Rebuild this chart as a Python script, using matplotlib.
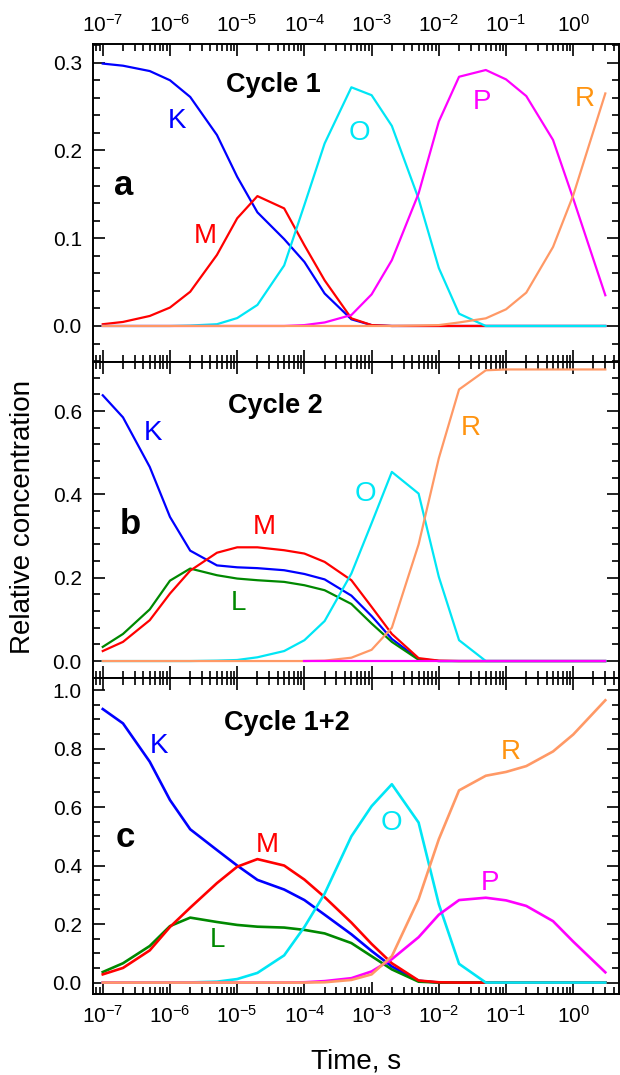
import numpy as np
import matplotlib
matplotlib.use('Agg')
import matplotlib.pyplot as plt
from matplotlib.ticker import FixedLocator, MultipleLocator, FormatStrFormatter, NullFormatter, LogFormatterSciNotation

plt.rcParams['font.family'] = ['Liberation Sans', 'DejaVu Sans']
plt.rcParams['mathtext.default'] = 'regular'
plt.rcParams['axes.unicode_minus'] = False

# time points, s
t = [1e-7, 2e-7, 5e-7, 1e-6, 2e-6, 5e-6, 1e-5, 2e-5, 5e-5, 1e-4, 2e-4, 5e-4,
     1e-3, 2e-3, 5e-3, 1e-2, 2e-2, 5e-2, 0.1, 0.2, 0.5, 1, 3]
nan = np.nan

# ---- Cycle 1 ----
K_a = [0.299, 0.2966, 0.2905, 0.280, 0.261, 0.2176, 0.170, 0.1295, 0.099, 0.073, 0.037, 0.0076,
       0.001, 0, 0, 0, 0, 0, 0, 0, 0, 0, 0]
M_a = [0.002, 0.0046, 0.0114, 0.021, 0.039, 0.081, 0.1227, 0.148, 0.134, 0.092, 0.052, 0.0087,
       0.001, 0, 0, 0, 0, 0, 0, 0, 0, 0, 0]
O_a = [0, 0, 0, 0, 0.0005, 0.002, 0.009, 0.024, 0.069, 0.138, 0.208, 0.272,
       0.263, 0.228, 0.145, 0.066, 0.014, 0, 0, 0, 0, 0, 0]
P_a = [0, 0, 0, 0, 0, 0, 0, 0, 0, 0.001, 0.004, 0.0125,
       0.036, 0.075, 0.151, 0.233, 0.284, 0.2917, 0.281, 0.262, 0.212, 0.145, 0.035]
R_a = [0, 0, 0, 0, 0, 0, 0, 0, 0, 0, 0, 0,
       0, 0, 0.0005, 0.001, 0.004, 0.0087, 0.019, 0.038, 0.090, 0.149, 0.265]

# ---- Cycle 2 ----
K_b = [0.638, 0.585, 0.466, 0.346, 0.265, 0.2296, 0.225, 0.223, 0.218, 0.209, 0.196, 0.157,
       0.108, 0.053, 0.005, 0, 0, 0, 0, 0, 0, 0, 0]
L_b = [0.034, 0.065, 0.124, 0.193, 0.222, 0.206, 0.198, 0.194, 0.190, 0.182, 0.170, 0.137,
       0.090, 0.046, 0.003, 0, 0, 0, 0, 0, 0, 0, 0]
M_b = [0.024, 0.046, 0.098, 0.162, 0.217, 0.260, 0.273, 0.273, 0.266, 0.258, 0.238, 0.194,
       0.130, 0.065, 0.007, 0.001, 0, 0, 0, 0, 0, 0, 0]
O_b = [0, 0, 0, 0, 0, 0.001, 0.0025, 0.009, 0.024, 0.050, 0.096, 0.210,
       0.331, 0.454, 0.402, 0.202, 0.050, 0, 0, 0, 0, 0, 0]
R_b = [0, 0, 0, 0, 0, 0, 0, 0, 0, 0, 0.001, 0.008,
       0.027, 0.080, 0.280, 0.487, 0.652, 0.698, 0.700, 0.700, 0.700, 0.700, 0.700]
P_b = [nan, nan, nan, nan, nan, nan, nan, nan, nan, 0, 0, 0,
       0, 0, 0, 0, 0, 0, 0, 0, 0, 0, 0]

# ---- Cycle 1+2 ----
K_c = [0.935, 0.886, 0.755, 0.624, 0.524, 0.453, 0.400, 0.351, 0.318, 0.282, 0.232, 0.165,
       0.108, 0.055, 0.006, 0, 0, 0, 0, 0, 0, 0, 0]
L_c = [0.036, 0.066, 0.125, 0.193, 0.222, 0.207, 0.197, 0.191, 0.188, 0.180, 0.168, 0.135,
       0.090, 0.045, 0.003, 0, 0, 0, 0, 0, 0, 0, 0]
M_c = [0.028, 0.050, 0.110, 0.190, 0.256, 0.340, 0.396, 0.422, 0.400, 0.352, 0.292, 0.205,
       0.132, 0.066, 0.007, 0.001, 0, 0, 0, 0, 0, 0, 0]
O_c = [0, 0, 0, 0, 0.0005, 0.003, 0.012, 0.033, 0.093, 0.190, 0.304, 0.500,
       0.603, 0.678, 0.547, 0.268, 0.064, 0, 0, 0, 0, 0, 0]
P_c = [0, 0, 0, 0, 0, 0, 0, 0, 0, 0.001, 0.005, 0.015,
       0.038, 0.080, 0.155, 0.232, 0.282, 0.290, 0.281, 0.262, 0.210, 0.140, 0.035]
R_c = [0, 0, 0, 0, 0, 0, 0, 0, 0, 0, 0.001, 0.009,
       0.028, 0.090, 0.285, 0.490, 0.657, 0.707, 0.720, 0.740, 0.790, 0.848, 0.965]

# decade ticks shown on the time axis
decades = [1e-7, 1e-6, 1e-5, 1e-4, 1e-3, 1e-2, 1e-1, 1e0]

col = {'K': '#0000ff', 'L': '#008800', 'M': '#ff0000', 'O': '#00e6f5',
       'P': '#ff00ff', 'R': '#ff9966'}
lab_col = dict(col, R='#ff9410')

fig = plt.figure(figsize=(6.2, 10.75), dpi=100)
left, width = 0.1498, 0.8482
ax_a = fig.add_axes([left, 0.6633, width, 0.2955])
ax_b = fig.add_axes([left, 0.3690, width, 0.2943])
ax_c = fig.add_axes([left, 0.0751, width, 0.2939])

xlim = (10 ** -7.147, 10 ** 0.677)
minor_x = [d * k for d in [1e-8] + decades for k in range(2, 10)]
minor_x = [m for m in minor_x if xlim[0] < m < xlim[1]]


def style(ax, ylim, major, minor, top_lab=False, bot_lab=False):
    ax.set_xscale('log')
    ax.set_xlim(*xlim)
    ax.set_ylim(*ylim)
    ax.xaxis.set_major_locator(FixedLocator(decades))
    ax.xaxis.set_major_formatter(LogFormatterSciNotation())
    ax.xaxis.set_minor_locator(FixedLocator(minor_x))
    ax.xaxis.set_minor_formatter(NullFormatter())
    ax.yaxis.set_major_locator(MultipleLocator(major))
    ax.yaxis.set_minor_locator(MultipleLocator(minor))
    ax.yaxis.set_major_formatter(FormatStrFormatter('%.1f'))
    ax.tick_params(which='both', direction='in', top=True, right=True, width=1.2)
    ax.tick_params(which='major', length=8.5, labelsize=15, pad=8)
    ax.tick_params(which='minor', length=5)
    ax.tick_params(axis='x', labeltop=top_lab, labelbottom=bot_lab)
    if top_lab:
        ax.tick_params(axis='x', which='major', pad=6)
    for s in ax.spines.values():
        s.set_linewidth(1.4)


style(ax_a, (-0.041, 0.321), 0.1, 0.02, top_lab=True)
style(ax_b, (-0.0415, 0.718), 0.2, 0.04)
style(ax_c, (-0.04, 1.04), 0.2, 0.05, bot_lab=True)

lw = 1.6
# panel a
for name, y in [('K', K_a), ('M', M_a), ('O', O_a), ('P', P_a), ('R', R_a)]:
    ax_a.plot(t, y, color=col[name], lw=lw)
# panel b
for name, y in [('K', K_b), ('L', L_b), ('M', M_b), ('O', O_b), ('R', R_b), ('P', P_b)]:
    ax_b.plot(t, y, color=col[name], lw=lw)
# panel c
for name, y in [('K', K_c), ('L', L_c), ('M', M_c), ('O', O_c), ('P', P_c), ('R', R_c)]:
    ax_c.plot(t, y, color=col[name], lw=1.9)

lfs = 20
labels_a = [('K', 1.27e-6, 0.226), ('M', 3.38e-6, 0.094), ('O', 6.65e-4, 0.212),
            ('P', 0.0443, 0.247), ('R', 1.5, 0.251)]
labels_b = [('K', 5.5e-7, 0.530), ('M', 2.5e-5, 0.305), ('L', 1.03e-5, 0.122),
            ('O', 8.0e-4, 0.384), ('R', 0.0296, 0.542)]
labels_c = [('K', 6.86e-7, 0.784), ('M', 2.82e-5, 0.448), ('L', 5.0e-6, 0.121),
            ('O', 1.97e-3, 0.522), ('R', 0.117, 0.763), ('P', 0.0574, 0.317)]
for ax, labs in [(ax_a, labels_a), (ax_b, labels_b), (ax_c, labels_c)]:
    for name, x, y in labs:
        ax.text(x, y, name, color=lab_col[name], fontsize=lfs, ha='center', va='baseline')

ax_a.text(0.3425, 0.851, 'Cycle 1', transform=ax_a.transAxes, fontsize=19.5,
          fontweight='bold', ha='center', va='baseline')
ax_b.text(0.347, 0.838, 'Cycle 2', transform=ax_b.transAxes, fontsize=19.5,
          fontweight='bold', ha='center', va='baseline')
ax_c.text(0.3685, 0.836, 'Cycle 1+2', transform=ax_c.transAxes, fontsize=19.5,
          fontweight='bold', ha='center', va='baseline')

ax_a.text(0.058, 0.526, 'a', transform=ax_a.transAxes, fontsize=25, fontweight='bold',
          ha='center', va='baseline')
ax_b.text(0.0713, 0.456, 'b', transform=ax_b.transAxes, fontsize=25, fontweight='bold',
          ha='center', va='baseline')
ax_c.text(0.0624, 0.465, 'c', transform=ax_c.transAxes, fontsize=25, fontweight='bold',
          ha='center', va='baseline')

fig.text(23 / 620, 1 - 517 / 1075, 'Relative concentration', rotation=90, fontsize=20,
         ha='center', va='center')
fig.text(356 / 620, 1 - 1068 / 1075, 'Time, s', fontsize=20, ha='center', va='baseline')

fig.savefig('out.png', dpi=100)
